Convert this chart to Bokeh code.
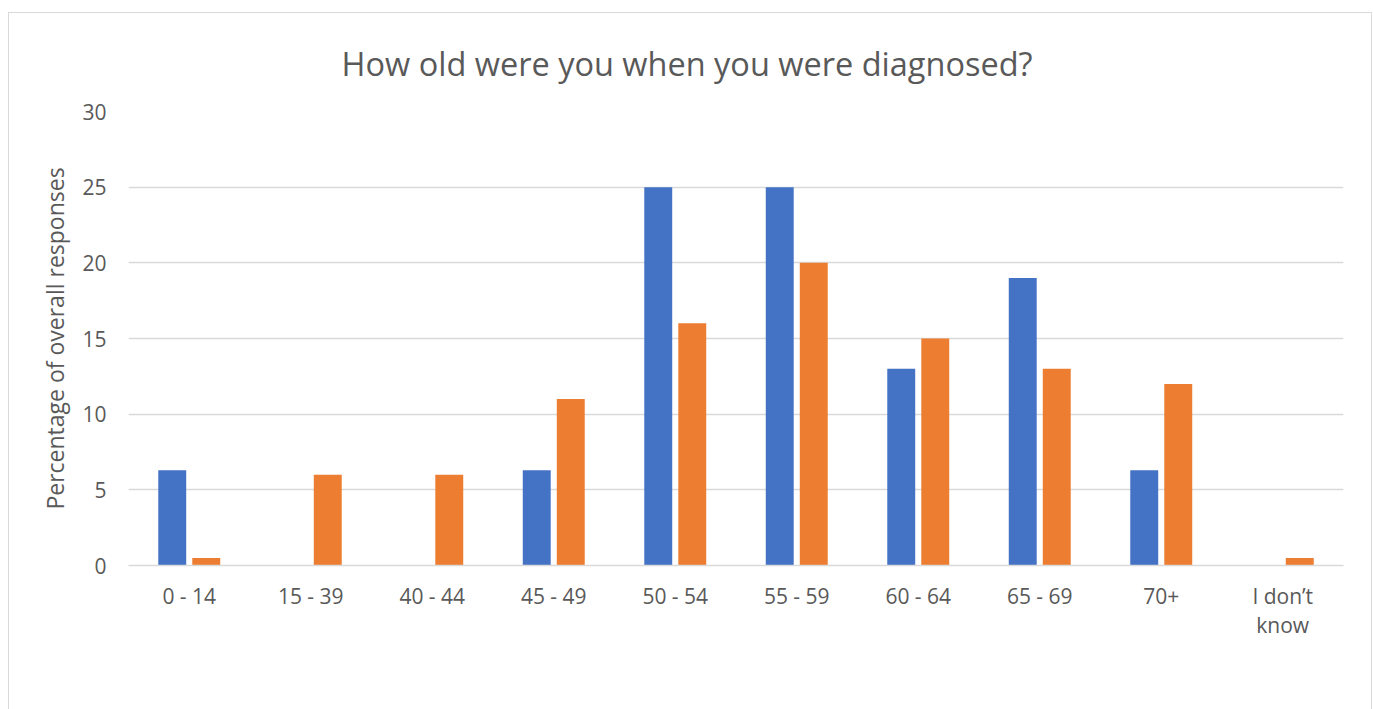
from bokeh.plotting import figure
from bokeh.models import (FactorRange, Legend, LegendItem, ColumnDataSource,
                          SingleIntervalTicker, CategoricalAxis, CustomJSTickFormatter)
from bokeh.transform import dodge
from bokeh.embed import file_html
from bokeh.resources import INLINE

categories = ["0 - 14", "15 - 39", "40 - 44", "45 - 49", "50 - 54",
              "55 - 59", "60 - 64", "65 - 69", "70+", "I don\u2019t know"]
portugal = [6.3, 0, 0, 6.3, 25, 25, 13, 19, 6.3, 0]
global_vals = [0.5, 6, 6, 11, 16, 20, 15, 13, 12, 0.5]
series_names = ["Portugal", "Global"]
colors = ["#4472C4", "#ED7D31"]
# the last category label is wrapped onto two lines
wrap_first, wrap_second = "I don\u2019t", "know"

src = ColumnDataSource(dict(cat=categories, portugal=portugal, glob=global_vals))

FONT = "Open Sans"
TXT = "#595959"

p = figure(x_range=FactorRange(*categories), y_range=(0, 30),
           frame_width=1215, frame_height=454, output_backend="svg", toolbar_location=None,
           min_border_left=119, min_border_right=28, min_border_top=94, min_border_bottom=140,
           title="How old were you when you were diagnosed?")
p.styles = {"border": "1px solid #D9D9D9", "margin-left": "8px", "margin-top": "12px"}

p.title.align = "left"
p.title.offset = 213
p.title.text_font = FONT
p.title.text_font_size = "32.5px"
p.title.text_font_style = "normal"
p.title.text_color = TXT
p.title.standoff = 51

r1 = p.vbar(x=dodge("cat", -0.14, range=p.x_range), top="portugal", width=0.23, source=src,
            fill_color=colors[0], line_color=None)
r2 = p.vbar(x=dodge("cat", 0.14, range=p.x_range), top="glob", width=0.23, source=src,
            fill_color=colors[1], line_color=None)

p.outline_line_color = None
p.xgrid.grid_line_color = None
p.ygrid.grid_line_color = "#D9D9D9"
p.ygrid.grid_line_width = 1.5

p.yaxis.ticker = SingleIntervalTicker(interval=5)
p.yaxis.axis_line_color = None
p.yaxis.major_tick_line_color = None
p.yaxis.minor_tick_line_color = None
p.yaxis.major_label_standoff = 16
p.yaxis.major_label_text_font = FONT
p.yaxis.major_label_text_font_size = "21px"
p.yaxis.major_label_text_color = TXT
p.yaxis.axis_label = "Percentage of overall responses"
p.yaxis.axis_label_text_font = FONT
p.yaxis.axis_label_text_font_size = "23px"
p.yaxis.axis_label_text_font_style = "normal"
p.yaxis.axis_label_text_color = TXT
p.yaxis.axis_label_standoff = 8

xa = p.xaxis[0]
xa.axis_line_color = "#D9D9D9"
xa.axis_line_width = 1.5
xa.major_tick_line_color = None
xa.minor_tick_line_color = None
xa.major_label_standoff = 10
xa.major_label_text_font = FONT
xa.major_label_text_font_size = "21px"
xa.major_label_text_color = TXT
xa.formatter = CustomJSTickFormatter(args=dict(target=categories[-1], first=wrap_first),
                                     code="return tick == target ? first : tick;")

xa2 = CategoricalAxis(formatter=CustomJSTickFormatter(
    args=dict(target=categories[-1], second=wrap_second),
    code="return tick == target ? second : '';"))
xa2.axis_line_color = None
xa2.major_tick_line_color = None
xa2.minor_tick_line_color = None
xa2.major_label_standoff = -8
xa2.major_label_text_font = FONT
xa2.major_label_text_font_size = "21px"
xa2.major_label_text_color = TXT
p.add_layout(xa2, "below")

legend = Legend(items=[LegendItem(label=series_names[0], renderers=[r1]),
                       LegendItem(label=series_names[1], renderers=[r2])],
                orientation="horizontal", location="top_center")
legend.border_line_color = None
legend.background_fill_alpha = 0
legend.label_text_font = FONT
legend.label_text_font_size = "20px"
legend.label_text_color = TXT
legend.glyph_width = 14
legend.glyph_height = 14
legend.label_standoff = 6
legend.spacing = 20
legend.padding = 0
legend.margin = -38
p.add_layout(legend, "below")

open("out.html", "w").write(file_html(p, INLINE))
